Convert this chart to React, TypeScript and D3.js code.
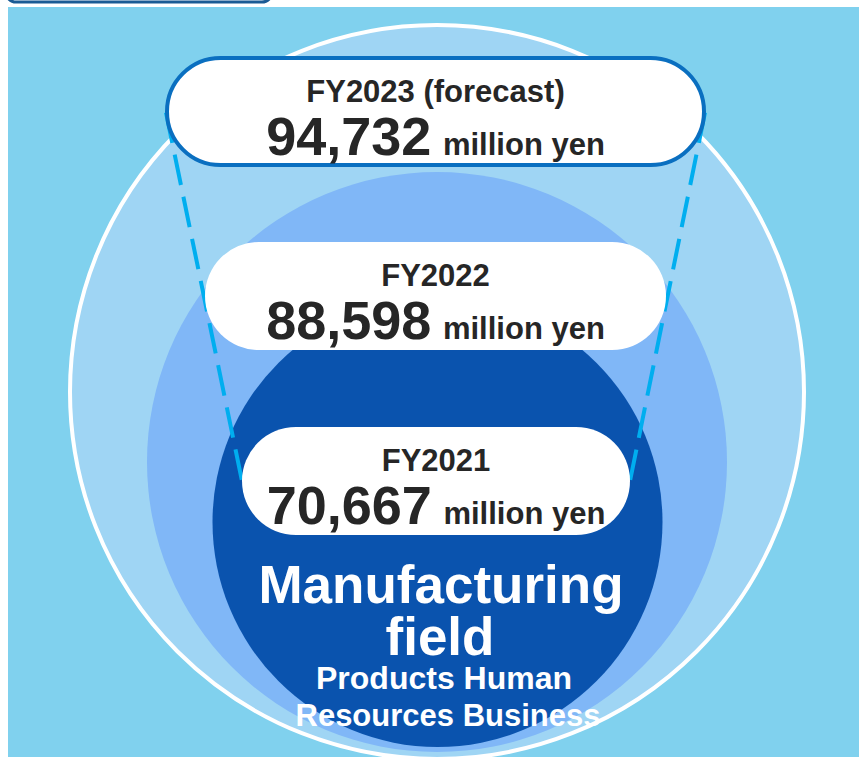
import * as d3 from 'd3'

// label data, top to bottom
const years: string[] = ['FY2023 (forecast)', 'FY2022', 'FY2021']
const sales: number[] = [94732, 88598, 70667]
const unit = 'million yen'
const fieldTitle: string[] = ['Manufacturing', 'field']
const fieldSub: string[] = ['Products Human', 'Resources Business']

const W = 859
const H = 757
const FONT = '"Liberation Sans", Arial, sans-serif'
const fmt = d3.format(',')

// rings, outer -> inner
const rings = [
  { cx: 437, cy: 392, r: 367, fill: '#9FD5F4', stroke: '#ffffff' },
  { cx: 437, cy: 462, r: 290, fill: '#80B7F7', stroke: 'none' },
  { cx: 437.5, cy: 522, r: 225, fill: '#0A53AE', stroke: 'none' },
]

// pills, same order as years
const pills = [
  { x: 167, y: 58, w: 537, h: 107, stroke: '#0A6FC0' },
  { x: 205, y: 242, w: 461, h: 108, stroke: 'none' },
  { x: 242, y: 427, w: 388, h: 108, stroke: 'none' },
]

interface Pos {
  x: number
  y: number
}
const lineFn = d3
  .line<Pos>()
  .x((d) => d.x)
  .y((d) => d.y)

export default function App() {
  const top = pills[0]
  const low = pills[2]
  const leftD = lineFn([
    { x: top.x - 1, y: top.y + top.h / 2 + 1 },
    { x: low.x, y: low.y + low.h / 2 },
  ])
  const rightD = lineFn([
    { x: top.x + top.w + 1, y: top.y + top.h / 2 + 1 },
    { x: low.x + low.w, y: low.y + low.h / 2 },
  ])

  return (
    <svg
      width={W}
      height={H}
      viewBox={`0 0 ${W} ${H}`}
      style={{ position: 'absolute', left: 0, top: 0, display: 'block' }}
      fontFamily={FONT}
    >
      <rect x={0} y={0} width={W} height={H} fill="#ffffff" />
      {/* cut-off header box */}
      <rect x={6} y={-40} width={266} height={42} rx={10} fill="#ffffff" stroke="#1B5B95" strokeWidth={3} />
      <rect x={8} y={7} width={W - 8} height={H - 7} fill="#80D1EE" />

      {rings.map((c, i) => (
        <circle
          key={i}
          cx={c.cx}
          cy={c.cy}
          r={c.r}
          fill={c.fill}
          stroke={c.stroke}
          strokeWidth={c.stroke === 'none' ? 0 : 4}
        />
      ))}

      <path d={leftD ?? undefined} stroke="#00AEEF" strokeWidth={4} strokeDasharray="31 12" fill="none" />
      <path d={rightD ?? undefined} stroke="#00AEEF" strokeWidth={4} strokeDasharray="31 12" fill="none" />

      {pills.map((p, i) => {
        const cx = p.x + p.w / 2
        return (
          <g key={years[i]}>
            <rect
              x={p.x}
              y={p.y}
              width={p.w}
              height={p.h}
              rx={p.h / 2}
              fill="#ffffff"
              stroke={p.stroke}
              strokeWidth={p.stroke === 'none' ? 0 : 4}
            />
            <text x={cx} y={p.y + 44} textAnchor="middle" fontSize={31} fontWeight="bold" fill="#262626">
              {years[i]}
            </text>
            <text x={cx} y={p.y + 97} textAnchor="middle" fontWeight="bold" fill="#262626">
              <tspan fontSize={54}>{fmt(sales[i])}</tspan>
              <tspan fontSize={31} dx={3}>
                {' ' + unit}
              </tspan>
            </text>
          </g>
        )
      })}

      <g fill="#ffffff" fontWeight="bold" textAnchor="middle">
        <text x={441} y={603} fontSize={53}>
          {fieldTitle[0]}
        </text>
        <text x={440} y={655} fontSize={53}>
          {fieldTitle[1]}
        </text>
        <text x={444} y={689} fontSize={32}>
          {fieldSub[0]}
        </text>
        <text x={448} y={726} fontSize={31}>
          {fieldSub[1]}
        </text>
      </g>
    </svg>
  )
}
